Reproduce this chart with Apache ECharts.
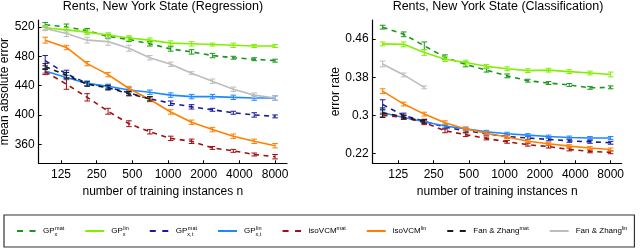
<!DOCTYPE html>
<html><head><meta charset="utf-8">
<script src="https://cdn.jsdelivr.net/npm/echarts@6/dist/echarts.min.js"></script>
<style>html,body{margin:0;padding:0;background:#fff}#c{width:640px;height:249px}</style>
</head><body><div id="c"></div>
<script>
// ---- data ----
const nTrain = [92, 139, 208, 312, 468, 702, 1053, 1580, 2370, 3556, 5333, 8000];
const xTickLabels = [125, 250, 500, 1000, 2000, 4000, 8000];
const regYTicks = [360, 400, 440, 480, 520];
const clsYTicks = [0.22, 0.3, 0.38, 0.46];
const seriesNames = ['GPx_mat', 'GPx_lin', 'GPxt_mat', 'GPxt_lin', 'isoVCM_mat', 'isoVCM_lin', 'FanZhang_mat', 'FanZhang_lin'];
const legendLabels = ['{b|GP}{sb|x}{sp|mat}', '{b|GP}{sb|x}{sp|lin}', '{b|GP}{sb|x,t}{sp|mat}', '{b|GP}{sb|x,t}{sp|lin}',
  '{b|isoVCM}{sp|mat}', '{b|isoVCM}{sp|lin}', '{b|Fan & Zhang}{sp|mat}', '{b|Fan & Zhang}{sp|lin}'];

// Regression (mean absolute error)
const regGPxMat = [523, 520, 515, 507, 503, 497, 490, 486, 481, 478, 476, 474];
const regGPxLin = [519, 516, 513, 509, 505, 502, 498, 497, 496, 495, 494, 494];
const regGPxtMat = [474, 456, 443, 438, 430, 422, 416, 411, 407, 403, 400, 398];
const regGPxtLin = [460, 451, 443, 439, 434, 431, 427, 425, 425, 424, 423, 423];
const regIsoMat = [459, 442, 424, 405, 388, 377, 368, 364, 355, 351, 346, 343];
const regIsoLin = [502, 492, 470, 455, 436, 421, 404, 390, 380, 371, 364, 358];
const regFZMat = [466, 454, 442, 437, 429, 422];
const regFZLin = [518, 511, 502, 500, 491, 478, 469, 457, 446, 435, 427, 423];
const regGPxMatErr = [3, 4, 3, 3, 3, 3, 3, 3, 3, 2, 2, 2];
const regGPxLinErr = [3, 3, 3, 3, 3, 3, 3, 3, 2, 3, 2, 2];
const regGPxtMatErr = [7, 5, 3, 3, 3, 3, 3, 3, 2, 2, 3, 2];
const regGPxtLinErr = [3, 3, 3, 3, 3, 3, 3, 3, 3, 3, 3, 3];
const regIsoMatErr = [4, 7, 5, 4, 4, 3, 3, 3, 2, 2, 2, 3];
const regIsoLinErr = [4, 3, 3, 3, 3, 3, 3, 3, 3, 3, 3, 3];
const regFZMatErr = [4, 4, 3, 3, 3, 3];
const regFZLinErr = [3, 4, 4, 5, 4, 3, 3, 2, 3, 3, 3, 3];

// Classification (error rate)
const clsGPxMat = [0.485, 0.470, 0.446, 0.422, 0.407, 0.395, 0.383, 0.373, 0.368, 0.364, 0.358, 0.359];
const clsGPxLin = [0.450, 0.449, 0.432, 0.418, 0.411, 0.403, 0.398, 0.394, 0.395, 0.392, 0.389, 0.386];
const clsGPxtMat = [0.323, 0.300, 0.288, 0.276, 0.268, 0.262, 0.256, 0.253, 0.250, 0.247, 0.245, 0.243];
const clsGPxtLin = [0.306, 0.296, 0.287, 0.278, 0.272, 0.266, 0.262, 0.259, 0.256, 0.254, 0.253, 0.253];
const clsIsoMat = [0.301, 0.296, 0.285, 0.268, 0.260, 0.252, 0.245, 0.239, 0.235, 0.229, 0.225, 0.223];
const clsIsoLin = [0.351, 0.324, 0.303, 0.285, 0.272, 0.263, 0.255, 0.246, 0.241, 0.236, 0.232, 0.229];
const clsFZMat = [0.306, 0.297, 0.288];
const clsFZLin = [0.408, 0.385, 0.359];
const clsGPxMatErr = [0.004, 0.005, 0.008, 0.005, 0.005, 0.004, 0.004, 0.003, 0.003, 0.003, 0.003, 0.003];
const clsGPxLinErr = [0.004, 0.005, 0.006, 0.005, 0.005, 0.004, 0.004, 0.004, 0.004, 0.004, 0.004, 0.005];
const clsGPxtMatErr = [0.010, 0.005, 0.004, 0.004, 0.004, 0.003, 0.003, 0.003, 0.003, 0.003, 0.003, 0.003];
const clsGPxtLinErr = [0.004, 0.004, 0.004, 0.004, 0.004, 0.003, 0.003, 0.003, 0.003, 0.003, 0.003, 0.003];
const clsIsoMatErr = [0.004, 0.004, 0.004, 0.004, 0.004, 0.003, 0.003, 0.003, 0.003, 0.003, 0.003, 0.003];
const clsIsoLinErr = [0.005, 0.004, 0.004, 0.004, 0.003, 0.003, 0.003, 0.003, 0.003, 0.003, 0.003, 0.003];
const clsFZMatErr = [0.010, 0.004, 0.004];
const clsFZLinErr = [0.006, 0.004, 0.003];

// ---- styles ----
const colors = ['#1a961a', '#80f000', '#1a1a9c', '#1e88ff', '#a01010', '#ff8000', '#1a1a1a', '#bdbdbd'];
const dashed = [true, false, true, false, true, false, true, false];
const FONT = '"Liberation Sans", Arial, Helvetica, sans-serif';

const regData = [regGPxMat, regGPxLin, regGPxtMat, regGPxtLin, regIsoMat, regIsoLin, regFZMat, regFZLin];
const regErr = [regGPxMatErr, regGPxLinErr, regGPxtMatErr, regGPxtLinErr, regIsoMatErr, regIsoLinErr, regFZMatErr, regFZLinErr];
const clsData = [clsGPxMat, clsGPxLin, clsGPxtMat, clsGPxtLin, clsIsoMat, clsIsoLin, clsFZMat, clsFZLin];
const clsErr = [clsGPxMatErr, clsGPxLinErr, clsGPxtMatErr, clsGPxtLinErr, clsIsoMatErr, clsIsoLinErr, clsFZMatErr, clsFZLinErr];

function errRender(color) {
  return function (params, api) {
    const x = api.value(0), y = api.value(1), e = api.value(2);
    const t = api.coord([x, y + e]), b = api.coord([x, y - e]);
    const hw = 2.8;
    const st = { stroke: color, lineWidth: 1 };
    return { type: 'group', children: [
      { type: 'line', shape: { x1: t[0], y1: t[1], x2: b[0], y2: b[1] }, style: st },
      { type: 'line', shape: { x1: t[0] - hw, y1: t[1], x2: t[0] + hw, y2: t[1] }, style: st },
      { type: 'line', shape: { x1: b[0] - hw, y1: b[1], x2: b[0] + hw, y2: b[1] }, style: st }
    ] };
  };
}

const series = [];
function addSeries(datas, errs, axisIdx) {
  datas.forEach((vals, i) => {
    const pts = vals.map((v, j) => [Math.log2(nTrain[j]), v]);
    series.push({
      type: 'line', name: seriesNames[i], xAxisIndex: axisIdx, yAxisIndex: axisIdx,
      data: pts, symbol: 'none', showSymbol: false, silent: true, z: 2 + i,
      lineStyle: { color: colors[i], width: 1.6, type: dashed[i] ? [5, 4.5] : 'solid' },
      itemStyle: { color: colors[i] }
    });
    series.push({
      type: 'custom', name: 'err_' + axisIdx + '_' + i, xAxisIndex: axisIdx, yAxisIndex: axisIdx,
      data: vals.map((v, j) => [Math.log2(nTrain[j]), v, errs[i][j]]),
      encode: { x: 0, y: 1 }, renderItem: errRender(colors[i]), silent: true, z: 2 + i
    });
  });
}
addSeries(regData, regErr, 0);
addSeries(clsData, clsErr, 1);

const xTickVals = xTickLabels.map(v => Math.log2(v));
function xAxisCfg(gi, min, max) {
  return {
    type: 'value', gridIndex: gi, min: min, max: max,
    name: 'number of training instances n', nameLocation: 'middle', nameGap: 17,
    nameTextStyle: { fontFamily: FONT, fontSize: 12, color: '#000' },
    axisLine: { show: true, onZero: false, lineStyle: { color: '#000', width: 1.2 } },
    axisTick: { show: true, inside: true, length: 3, customValues: xTickVals, lineStyle: { color: '#000' } },
    axisLabel: { customValues: xTickVals, formatter: v => String(Math.round(Math.pow(2, v))),
      fontFamily: FONT, fontSize: 12, color: '#000', margin: 5 },
    splitLine: { show: false }
  };
}
function yAxisCfg(gi, min, max, ticks, name, gap) {
  return {
    type: 'value', gridIndex: gi, min: min, max: max,
    name: name, nameLocation: 'middle', nameGap: gap,
    nameTextStyle: { fontFamily: FONT, fontSize: 12, color: '#000' },
    axisLine: { show: true, onZero: false, lineStyle: { color: '#000', width: 1.2 } },
    axisTick: { show: true, inside: true, length: 3, customValues: ticks, lineStyle: { color: '#000' } },
    axisLabel: { customValues: ticks, fontFamily: FONT, fontSize: 12, color: '#000', margin: 4 },
    splitLine: { show: false }
  };
}

const legendData = seriesNames.map((n, i) => {
  const d = { name: n, itemStyle: { opacity: 0, borderWidth: 0 } };
  if (dashed[i]) d.lineStyle = { type: [6, 6.5] };
  return d;
});
const labelMap = {};
seriesNames.forEach((n, i) => labelMap[n] = legendLabels[i]);

const option = {
  animation: false,
  backgroundColor: '#fff',
  title: [
    { text: 'Rents, New York State (Regression)', left: 163, top: 0, textAlign: 'center', padding: 0,
      textStyle: { fontFamily: FONT, fontSize: 12.5, fontWeight: 'normal', color: '#000' } },
    { text: 'Rents, New York State (Classification)', left: 498, top: 0, textAlign: 'center', padding: 0,
      textStyle: { fontFamily: FONT, fontSize: 12.5, fontWeight: 'normal', color: '#000' } }
  ],
  grid: [
    { left: 38.7, top: 20, right: 353, bottom: 85.7, outerBoundsMode: 'none', containLabel: false },
    { left: 372.7, top: 20, right: 18.3, bottom: 85.7, outerBoundsMode: 'none', containLabel: false }
  ],
  xAxis: [xAxisCfg(0, 6.341, 13.30), xAxisCfg(1, 6.243, 13.277)],
  yAxis: [yAxisCfg(0, 334, 529.5, regYTicks, 'mean absolute error', 23.5),
          yAxisCfg(1, 0.2, 0.5, clsYTicks, 'error rate', 31)],
  legend: {
    data: legendData, left: 4, top: 215, width: 616, orient: 'horizontal',
    itemWidth: 19, itemHeight: 8, itemGap: 20,
    padding: [10, 7, 10, 12],
    borderColor: '#333', borderWidth: 1.2, backgroundColor: '#fff',
    selectedMode: false,
    itemStyle: { opacity: 0, borderWidth: 0 },
    formatter: name => labelMap[name],
    textStyle: {
      fontFamily: FONT, color: '#000', fontSize: 8,
      rich: {
        b: { fontFamily: FONT, fontSize: 8, color: '#000', lineHeight: 12, padding: [0, 0, 0, 2] },
        sp: { fontFamily: FONT, fontSize: 5.5, color: '#000', lineHeight: 6, verticalAlign: 'top' },
        sb: { fontFamily: FONT, fontSize: 5.5, color: '#000', lineHeight: 6, verticalAlign: 'bottom', width: 0.5 }
      }
    }
  },
  series: series
};
const chart = echarts.init(document.getElementById('c'), null, { renderer: 'canvas' });
chart.setOption(option);
</script></body></html>
